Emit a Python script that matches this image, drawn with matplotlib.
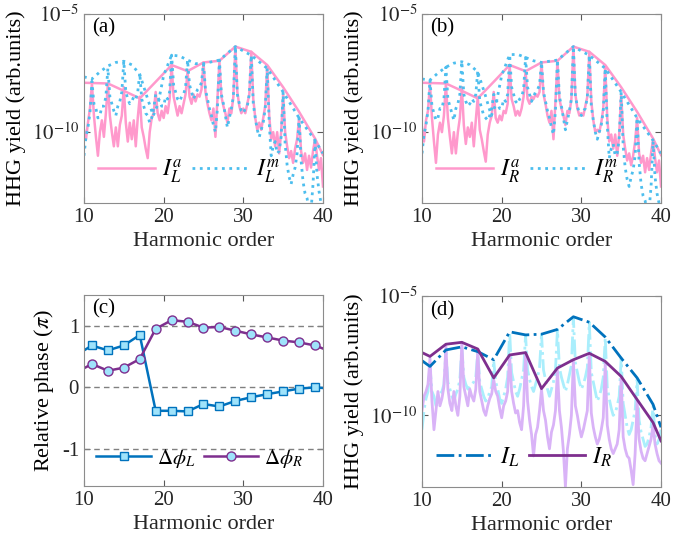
import numpy as np
import matplotlib
matplotlib.use('Agg')
import matplotlib.pyplot as plt
from matplotlib.ticker import FixedLocator, NullLocator, FuncFormatter

plt.rcParams['font.family'] = ['Liberation Serif', 'DejaVu Serif']
plt.rcParams['mathtext.fontset'] = 'stix'
plt.rcParams['axes.unicode_minus'] = False

# harmonic grid for spectra (step 0.25), values are log10 of yield
H = np.arange(10, 40.001, 0.25)

# ---- panel (a) ----
a_atom = [-9.9, -10.3, -9.6, -9.0,
          -7.95, -9.3, -10.2, -11.0,
          -10.0, -9.5, -10.2, -9.2,
          -7.95, -9.3, -10.0, -10.6,
          -9.8, -10.6, -9.7, -9.3,
          -8.1, -9.6, -10.4, -9.6,
          -10.3, -9.5, -10.6, -9.4,
          -8.5, -9.8, -10.2, -10.7,
          -11.1, -10.0, -9.4, -9.2,
          -8.3, -9.2, -9.5, -9.1,
          -9.4, -8.9, -9.2, -8.6,
          -7.15, -8.5, -8.9, -9.3,
          -8.9, -9.2, -8.8, -8.4,
          -7.42, -8.5, -8.8, -8.4,
          -8.7, -8.4, -8.5, -8.2,
          -7.05, -8.3, -8.8, -9.2,
          -9.5, -9.0, -10.2, -8.6,
          -7.0, -8.5, -8.9, -9.2,
          -9.6, -9.0, -9.2, -8.5,
          -6.38, -8.3, -8.9, -9.2,
          -9.0, -9.2, -8.8, -8.4,
          -6.6, -8.6, -9.4, -9.9,
          -9.6, -9.9, -9.4, -8.9,
          -7.2, -9.3, -10.3, -10.0,
          -10.6, -10.0, -10.9, -10.0,
          -8.4, -10.0, -10.6, -11.1,
          -10.8, -11.3, -10.7, -10.3,
          -9.4, -10.8, -11.3, -10.9,
          -11.6, -11.0, -11.5, -10.8,
          -10.3, -11.0, -11.6, -11.1,
          -12.3]
a_mol = [-11.0, -10.2, -9.8, -9.2,
         -7.85, -8.8, -9.0, -9.4,
         -9.3, -8.9, -8.9, -8.5,
         -7.3, -8.5, -8.8, -9.1,
         -9.3, -8.9, -8.7, -8.3,
         -7.0, -8.3, -8.6, -8.8,
         -8.7, -8.5, -8.6, -8.3,
         -7.5, -8.6, -8.9, -9.2,
         -9.3, -9.6, -9.4, -9.0,
         -8.4, -8.5, -8.7, -8.9,
         -8.9, -8.5, -8.6, -8.3,
         -6.74, -8.0, -8.3, -8.6,
         -8.7, -8.5, -8.4, -8.1,
         -6.95, -8.0, -8.3, -8.6,
         -8.4, -8.2, -8.1, -7.9,
         -7.1, -8.2, -8.6, -9.0,
         -9.3, -9.7, -10.0, -9.0,
         -6.95, -8.4, -8.8, -9.3,
         -9.8, -9.4, -9.0, -8.5,
         -6.38, -8.4, -8.8, -9.1,
         -9.2, -9.0, -8.9, -8.4,
         -6.75, -8.8, -9.4, -9.9,
         -10.2, -9.9, -9.6, -9.0,
         -7.3, -9.6, -11.0, -10.6,
         -10.4, -10.9, -10.8, -10.2,
         -8.3, -10.5, -11.4, -11.9,
         -12.2, -11.8, -11.5, -10.9,
         -9.4, -11.2, -12.1, -12.6,
         -12.8, -13.3, -13.3, -12.2,
         -10.4, -11.8, -12.5, -13.0,
         -13.2]

# ---- panel (b) ----
b_atom = [-9.8, -10.4, -9.5, -9.1,
          -7.95, -9.4, -10.4, -11.3,
          -10.1, -9.6, -10.0, -9.3,
          -7.95, -9.4, -10.2, -10.9,
          -10.0, -10.9, -10.0, -9.4,
          -8.1, -9.7, -10.5, -9.8,
          -10.2, -9.6, -10.6, -9.5,
          -8.5, -9.9, -10.3, -10.8,
          -11.25, -10.1, -9.6, -9.3,
          -8.3, -9.4, -9.6, -9.3,
          -9.5, -9.1, -9.2, -8.8,
          -7.15, -8.6, -8.9, -9.3,
          -9.1, -9.3, -9.0, -8.5,
          -7.42, -8.6, -8.8, -8.5,
          -8.6, -8.4, -8.5, -8.3,
          -7.05, -8.4, -8.8, -9.3,
          -9.6, -9.1, -10.3, -8.7,
          -7.0, -8.6, -9.0, -9.3,
          -9.7, -9.1, -9.2, -8.6,
          -6.38, -8.4, -9.0, -9.3,
          -9.2, -9.3, -8.9, -8.5,
          -6.6, -8.7, -9.5, -10.0,
          -9.9, -10.0, -9.6, -9.0,
          -7.2, -9.4, -10.4, -10.1,
          -10.7, -10.1, -11.0, -10.1,
          -8.4, -10.1, -10.7, -11.2,
          -10.9, -11.4, -11.0, -10.4,
          -9.4, -10.9, -11.3, -11.0,
          -11.7, -11.1, -11.6, -10.9,
          -10.3, -11.1, -11.7, -11.2,
          -12.3]
b_mol = [-10.9, -10.1, -9.7, -9.1,
         -7.8, -8.9, -9.2, -9.5,
         -9.4, -9.0, -9.0, -8.6,
         -7.25, -8.6, -8.9, -9.2,
         -9.5, -9.0, -8.8, -8.4,
         -7.02, -8.4, -8.7, -8.9,
         -8.8, -8.6, -8.7, -8.4,
         -7.4, -8.7, -9.0, -9.3,
         -9.4, -9.5, -9.3, -9.0,
         -8.4, -8.6, -8.8, -9.0,
         -9.0, -8.6, -8.7, -8.4,
         -6.72, -8.1, -8.4, -8.7,
         -8.8, -8.6, -8.5, -8.2,
         -6.84, -8.1, -8.4, -8.7,
         -8.5, -8.3, -8.2, -8.0,
         -7.05, -8.3, -8.7, -9.1,
         -9.4, -9.8, -10.1, -9.1,
         -6.95, -8.5, -8.9, -9.4,
         -9.9, -9.5, -9.1, -8.6,
         -6.38, -8.5, -8.9, -9.2,
         -9.3, -9.1, -9.0, -8.5,
         -6.75, -8.9, -9.5, -10.0,
         -10.3, -10.0, -9.7, -9.1,
         -7.3, -9.7, -11.1, -10.7,
         -10.5, -11.0, -10.9, -10.3,
         -8.3, -10.6, -11.5, -12.0,
         -12.3, -11.9, -11.6, -11.0,
         -9.4, -11.3, -12.2, -12.7,
         -12.9, -13.3, -13.3, -12.3,
         -10.4, -11.9, -12.6, -13.0,
         -13.2]

# envelopes (a)/(b)
env_h = [10, 11, 13, 15, 17, 19, 21, 23, 25, 27, 29, 31, 33, 35, 37, 39, 40]
env_atom = [-7.91, -7.92, -7.94, -8.25, -8.57, -7.87, -7.16, -7.42, -7.05,
            -6.98, -6.38, -6.6, -7.16, -8.1, -9.14, -10.27, -10.97]
arc_h = [10, 11, 12, 13, 14, 15, 16, 17, 18, 18.7, 19.3, 20, 21, 22, 23, 24,
         25, 27, 29, 31, 33, 35, 37, 39, 40]
a_arc = [-7.66, -7.75, -7.45, -7.2, -7.05, -7.0, -7.15, -7.55, -8.6, -9.3,
         -8.8, -7.6, -6.74, -6.78, -6.95, -7.1, -7.1, -6.95, -6.38, -6.75,
         -7.3, -8.3, -9.4, -10.35, -10.9]
b_arc = [-7.75, -7.8, -7.5, -7.25, -7.08, -7.02, -7.15, -7.45, -8.5, -9.3,
         -8.8, -7.6, -6.72, -6.71, -6.84, -6.98, -7.05, -6.95, -6.38, -6.75,
         -7.3, -8.3, -9.4, -10.35, -10.9]

# ---- panel (c): relative phase (units of pi) ----
ph_h = [10, 11, 13, 15, 17, 19, 21, 23, 25, 27, 29, 31, 33, 35, 37, 39, 40]
phi_L = [0.60, 0.68, 0.60, 0.68, 0.85, -0.38, -0.38, -0.39, -0.27, -0.31,
         -0.22, -0.16, -0.11, -0.065, -0.02, 0.0, -0.01]
phi_R = [0.31, 0.38, 0.27, 0.32, 0.46, 0.95, 1.09, 1.065, 0.97, 0.98,
         0.92, 0.86, 0.81, 0.76, 0.73, 0.68, 0.63]

# ---- panel (d) ----
d_L = [-10.6, -9.8, -9.3, -9.0,
       -7.95, -9.0, -9.2, -9.6,
       -9.5, -9.1, -9.0, -8.7,
       -7.3, -8.6, -8.9, -9.2,
       -9.4, -9.1, -8.9, -8.5,
       -7.15, -8.4, -8.7, -8.9,
       -8.8, -8.7, -8.6, -8.4,
       -7.35, -8.6, -8.9, -9.2,
       -9.4, -9.3, -9.0, -8.8,
       -7.7, -8.6, -8.9, -9.3,
       -9.5, -9.2, -8.9, -8.4,
       -6.5, -8.2, -8.6, -9.0,
       -9.2, -8.9, -8.5, -8.1,
       -6.65, -8.1, -8.5, -8.8,
       -9.0, -8.7, -8.4, -8.0,
       -6.6, -8.1, -8.5, -8.9,
       -9.2, -8.9, -8.6, -8.1,
       -6.4, -8.0, -8.4, -8.7,
       -9.0, -8.7, -8.3, -7.9,
       -5.9, -7.8, -8.2, -8.6,
       -8.9, -8.7, -8.4, -8.0,
       -6.1, -8.2, -8.6, -9.0,
       -9.4, -9.2, -8.9, -8.4,
       -6.75, -8.8, -9.3, -9.7,
       -10.0, -9.9, -9.6, -9.2,
       -7.6, -9.5, -10.0, -10.5,
       -10.8, -10.6, -10.2, -9.8,
       -8.5, -10.2, -10.7, -11.0,
       -11.3, -11.2, -10.9, -10.5,
       -9.6, -10.8, -11.2, -11.0,
       -10.6]
d_R = [-9.8, -9.2, -9.0, -8.7,
       -7.6, -9.4, -10.6, -9.8,
       -9.0, -9.6, -9.3, -8.8,
       -7.1, -8.9, -9.5, -9.8,
       -9.0, -9.6, -10.0, -9.2,
       -6.95, -8.8, -9.2, -9.6,
       -8.9, -9.2, -9.4, -8.9,
       -7.3, -9.0, -9.4, -9.8,
       -10.0, -9.6, -9.3, -9.1,
       -8.5, -9.0, -9.2, -9.7,
       -10.1, -9.6, -9.4, -9.0,
       -7.5, -9.0, -9.5, -9.9,
       -9.8, -10.3, -10.6, -9.6,
       -7.4, -9.4, -10.2, -10.8,
       -11.7, -10.8, -10.5, -9.8,
       -8.9, -9.8, -10.2, -10.9,
       -11.4, -10.7, -10.4, -9.8,
       -8.1, -9.8, -10.5, -11.5,
       -13.0, -11.4, -10.8, -10.0,
       -7.7, -9.6, -10.0, -10.5,
       -10.9, -10.6, -10.2, -9.8,
       -7.45, -9.9, -10.5, -10.9,
       -11.2, -11.0, -10.6, -10.1,
       -7.8, -10.4, -11.0, -11.4,
       -11.6, -11.4, -11.2, -10.6,
       -8.4, -10.9, -11.4, -11.7,
       -11.8, -12.3, -12.9, -11.6,
       -9.4, -11.0, -11.5, -11.8,
       -11.9, -11.6, -11.3, -11.0,
       -10.4, -11.2, -11.6, -11.9,
       -12.0]
envL = [-7.71, -7.95, -7.26, -7.13, -7.33, -7.67, -6.5, -6.63, -6.6, -6.4,
        -5.87, -6.1, -6.72, -7.6, -8.43, -9.54, -10.5]
envR = [-7.37, -7.53, -7.02, -6.94, -7.22, -8.43, -7.47, -7.37, -8.88, -8.02,
        -7.67, -7.4, -7.74, -8.37, -9.34, -10.3, -11.07]

pink = '#ff99cc'
sky = '#4dbeee'
blue = '#0072bd'
purple = '#7e2f8e'
ltcyan = '#aaeefc'
ltpurple = '#d9b3f7'


def p(v):
    return 10.0 ** np.asarray(v)


def style(ax, logy=True):
    ax.set_xlim(10, 40)
    ax.xaxis.set_major_locator(FixedLocator([10, 20, 30, 40]))
    if logy:
        ax.set_yscale('log')
        ax.set_ylim(1e-13, 1e-5)
        ax.yaxis.set_major_locator(FixedLocator([1e-10, 1e-5]))
        ax.yaxis.set_minor_locator(NullLocator())
        ax.yaxis.set_major_formatter(FuncFormatter(
            lambda v, pos: r'$10^{%d}$' % round(np.log10(v))))
        ax.set_ylabel('HHG yield (arb.units)', fontsize=16)
    ax.tick_params(direction='in', top=True, right=True, labelsize=15,
                   length=4, color='0.35', labelcolor='#262626')
    for s in ax.spines.values():
        s.set_color('0.55')
    ax.set_xlabel('Harmonic order', fontsize=16, color='#262626')


fig = plt.figure(figsize=(6.9, 5.45), dpi=100)
W = 0.3464
ax_a = fig.add_axes([0.1217, 0.6275, W, 0.3468])
ax_b = fig.add_axes([0.6116, 0.6275, W, 0.3468])
ax_c = fig.add_axes([0.1217, 0.1083, W, 0.3505])
ax_d = fig.add_axes([0.6116, 0.1064, W, 0.3505])

for ax, atom, mol, arc, lab, sub in [(ax_a, a_atom, a_mol, a_arc, '(a)', 'L'),
                                     (ax_b, b_atom, b_mol, b_arc, '(b)', 'R')]:
    ax.plot(H, p(atom), color=pink, lw=1.8)
    ax.plot(env_h, p(env_atom), color=pink, lw=1.8,
            label=r'$I_{%s}^{a}$' % sub)
    ax.plot(H, p(mol), color=sky, lw=2.0, ls=':')
    ax.plot(arc_h, p(arc), color=sky, lw=2.0, ls=':',
            label=r'$I_{%s}^{m}$' % sub)
    style(ax)
    ax.text(0.035, 0.975, lab, transform=ax.transAxes, va='top', fontsize=15)
    ax.legend(loc='lower left', ncol=2, frameon=False, fontsize=17,
              handlelength=2.4, columnspacing=0.4, handletextpad=0.3,
              borderaxespad=0.2, bbox_to_anchor=(0.0, 0.02))

# (c)
for yv in (-1, 0, 1):
    ax_c.axhline(yv, color='0.5', lw=1.0, ls=(0, (4, 3)))
ax_c.plot(ph_h, phi_L, color=blue, lw=1.8, marker='s', ms=5.5,
          mfc='#9fe3fb', mec=blue, mew=1.0, markevery=list(range(1, 16)),
          label=r'$\Delta\phi_L$')
ax_c.plot(ph_h, phi_R, color=purple, lw=1.8, marker='o', ms=6.5,
          mfc='#9fe3fb', mec=purple, mew=1.0, markevery=list(range(1, 16)),
          label=r'$\Delta\phi_R$')
style(ax_c, logy=False)
ax_c.set_ylim(-1.6, 1.5)
ax_c.yaxis.set_major_locator(FixedLocator([-1, 0, 1]))
ax_c.set_ylabel(r'Relative phase ($\pi$)', fontsize=16)
ax_c.text(0.035, 0.975, '(c)', transform=ax_c.transAxes, va='top', fontsize=15)
ax_c.legend(loc='lower left', ncol=2, frameon=False, fontsize=15,
            handlelength=2.6, columnspacing=0.4, handletextpad=0.3,
            borderaxespad=0.2, bbox_to_anchor=(0.0, 0.02))

# (d)
ax_d.plot(H, p(d_L), color=ltcyan, lw=2.0, ls='-.')
ax_d.plot(H, p(d_R), color=ltpurple, lw=2.0)
ax_d.plot(env_h, p(envL), color=blue, lw=2.0, ls='-.', label=r'$I_L$')
ax_d.plot(env_h, p(envR), color=purple, lw=2.0, label=r'$I_R$')
style(ax_d)
ax_d.text(0.035, 0.975, '(d)', transform=ax_d.transAxes, va='top', fontsize=15)
ax_d.legend(loc='lower left', ncol=2, frameon=False, fontsize=17,
            handlelength=2.4, columnspacing=0.4, handletextpad=0.3,
            borderaxespad=0.2, bbox_to_anchor=(0.0, 0.02))

fig.savefig('out.png', dpi=100)
